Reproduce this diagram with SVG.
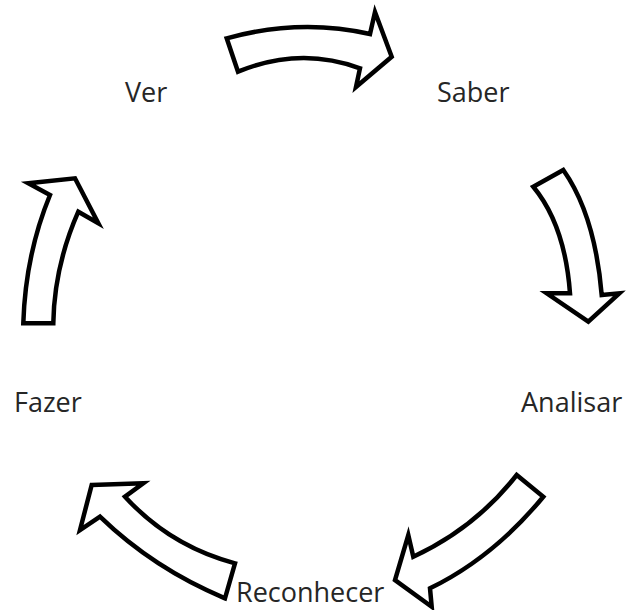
<svg xmlns="http://www.w3.org/2000/svg" width="629" height="610" viewBox="0 0 629 610">
<style>
.arrow{fill:#fff;stroke:#000;stroke-width:4.5;stroke-linejoin:miter;stroke-miterlimit:10}
.lbl{font-family:"Open Sans","Liberation Sans",sans-serif;font-size:27px;fill:#262626}
</style>
<rect width="629" height="610" fill="#fff"/>
<g id="connectors">
<path class="arrow" d="M226.7 38.3 Q300 18 370 34 L375 12 L391.7 56.7 L356 87 L360 68.3 Q300 46 238 71.7 Z"/>
<path class="arrow" d="M533.3 186.7 L563.3 170 Q595 215 601.7 295 L619.3 293.3 L588.3 321.7 L546.7 293.3 L570 293.3 Q565 225 533.3 186.7 Z"/>
<path class="arrow" d="M516.7 475 L543.3 496.7 Q493.3 557.5 430 588.3 L431.7 606.7 L395 580 L408.3 535 L413.3 556.7 Q475 528.2 516.7 475 Z"/>
<path class="arrow" d="M91.7 485 L143.3 483.3 L125 496.7 Q170 546 235 563.3 L225 598.3 Q153.5 568.5 100 516.7 L80 530 Z"/>
<path class="arrow" d="M23.3 323.3 L53.3 323.3 Q54.2 266.5 78.3 211.7 L98.3 223.3 L75 178.3 L28.3 183.3 L50 195 Q25.4 254.8 23.3 323.3 Z"/>
</g>
<g id="ver"><text class="lbl" x="125" y="102">Ver</text></g>
<g id="saber"><text class="lbl" x="437" y="102">Saber</text></g>
<g id="analisar"><text class="lbl" x="521" y="412">Analisar</text></g>
<g id="reconhecer"><text class="lbl" x="236" y="602">Reconhecer</text></g>
<g id="fazer"><text class="lbl" x="14" y="412">Fazer</text></g>
</svg>
